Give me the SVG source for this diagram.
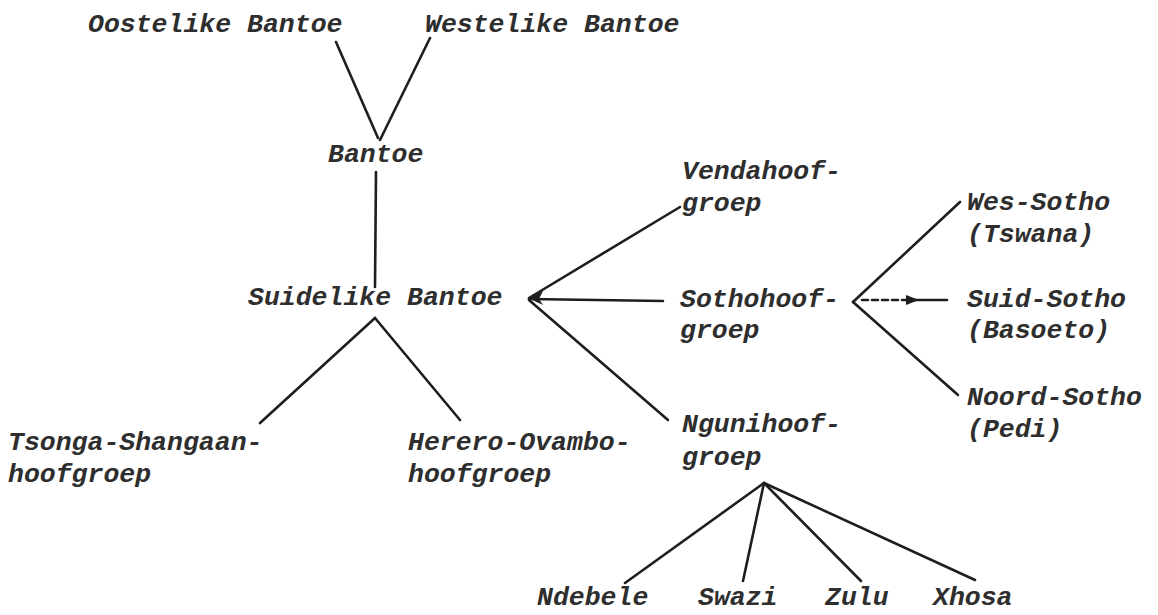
<svg xmlns="http://www.w3.org/2000/svg" width="1158" height="615" viewBox="0 0 1158 615">
<defs>
<style>
.t{font-family:"Liberation Mono","Courier New",monospace;font-style:italic;font-weight:bold;font-size:26.5px;fill:#2e2e2e}
.c{stroke:#1e1e1e;stroke-width:2.6;fill:none;stroke-linecap:round}
</style>
</defs>
<rect width="1158" height="615" fill="#ffffff"/>
<g id="connectors">
<line class="c" x1="336" y1="42" x2="378" y2="138"/>
<line class="c" x1="430" y1="38" x2="380" y2="140"/>
<line class="c" x1="376" y1="172" x2="375" y2="287"/>
<line class="c" x1="375" y1="318" x2="260" y2="423"/>
<line class="c" x1="375" y1="318" x2="460" y2="420"/>
<line class="c" x1="529" y1="298" x2="680" y2="207"/>
<line class="c" x1="529" y1="299" x2="663" y2="301"/>
<line class="c" x1="529" y1="300" x2="668" y2="420"/>
<path d="M528,298 L543,291 L539,299 L543,305 Z" fill="#1e1e1e"/>
<line class="c" x1="853" y1="302" x2="960" y2="202"/>
<line class="c" x1="853" y1="302" x2="958" y2="395"/>
<line class="c" x1="862" y1="300" x2="908" y2="300" stroke-dasharray="6 4" stroke-width="1.8"/>
<line class="c" x1="915" y1="300" x2="947" y2="300"/>
<path d="M919,300 L906,295 L906,305 Z" fill="#1e1e1e"/>
<line class="c" x1="764" y1="483" x2="625" y2="583"/>
<line class="c" x1="764" y1="483" x2="743" y2="581"/>
<line class="c" x1="764" y1="483" x2="861" y2="581"/>
<line class="c" x1="764" y1="483" x2="975" y2="580" stroke-width="3.4"/>
</g>
<g id="oostelike"><text class="t" x="88" y="32">Oostelike Bantoe</text></g>
<g id="westelike"><text class="t" x="425" y="32">Westelike Bantoe</text></g>
<g id="bantoe"><text class="t" x="328" y="162">Bantoe</text></g>
<g id="suidelike"><text class="t" x="248" y="305">Suidelike Bantoe</text></g>
<g id="tsonga"><text class="t" x="8" y="450">Tsonga-Shangaan-</text><text class="t" x="8" y="482">hoofgroep</text></g>
<g id="herero"><text class="t" x="408" y="450">Herero-Ovambo-</text><text class="t" x="408" y="482">hoofgroep</text></g>
<g id="venda"><text class="t" x="682" y="179">Vendahoof-</text><text class="t" x="682" y="211">groep</text></g>
<g id="sotho"><text class="t" x="680" y="307">Sothohoof-</text><text class="t" x="680" y="338">groep</text></g>
<g id="nguni"><text class="t" x="682" y="432">Ngunihoof-</text><text class="t" x="682" y="465">groep</text></g>
<g id="wes-sotho"><text class="t" x="967" y="210">Wes-Sotho</text><text class="t" x="967" y="242">(Tswana)</text></g>
<g id="suid-sotho"><text class="t" x="967" y="307">Suid-Sotho</text><text class="t" x="967" y="338">(Basoeto)</text></g>
<g id="noord-sotho"><text class="t" x="967" y="405">Noord-Sotho</text><text class="t" x="967" y="437">(Pedi)</text></g>
<g id="ndebele"><text class="t" x="537" y="605">Ndebele</text></g>
<g id="swazi"><text class="t" x="698" y="605">Swazi</text></g>
<g id="zulu"><text class="t" x="825" y="605">Zulu</text></g>
<g id="xhosa"><text class="t" x="933" y="605">Xhosa</text></g>
</svg>
